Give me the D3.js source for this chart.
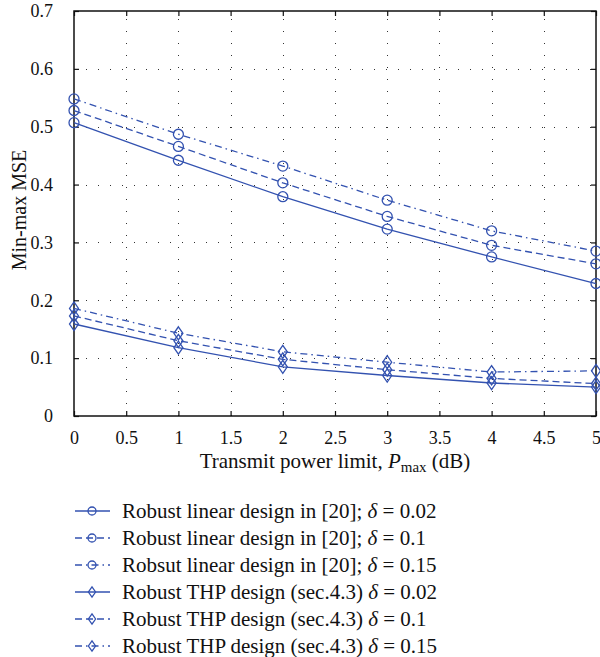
<!DOCTYPE html>
<html><head><meta charset="utf-8">
<script src="https://cdn.jsdelivr.net/npm/d3@7"></script>
<style>body{margin:0;background:#fff}svg{display:block}text{font-family:"Liberation Serif","Times New Roman",serif;fill:#111}</style>
</head><body><svg id="c" width="600" height="657"></svg>
<script>
const xValues = [0, 1, 2, 3, 4, 5];
const linear002 = [0.507, 0.442, 0.379, 0.323, 0.275, 0.229];
const linear01  = [0.528, 0.466, 0.403, 0.345, 0.295, 0.263];
const linear015 = [0.548, 0.487, 0.432, 0.373, 0.320, 0.285];
const thp002 = [0.159, 0.118, 0.085, 0.070, 0.057, 0.050];
const thp01  = [0.173, 0.130, 0.098, 0.080, 0.065, 0.056];
const thp015 = [0.186, 0.143, 0.111, 0.093, 0.076, 0.078];
const legendLabels = [
  "Robust linear design in [20]; δ = 0.02",
  "Robust linear design in [20]; δ = 0.1",
  "Robsut linear design in [20]; δ = 0.15",
  "Robust THP design (sec.4.3) δ = 0.02",
  "Robust THP design (sec.4.3) δ = 0.1",
  "Robust THP design (sec.4.3) δ = 0.15"
];
const xTicks = [0, 0.5, 1, 1.5, 2, 2.5, 3, 3.5, 4, 4.5, 5];
const yTicks = [0, 0.1, 0.2, 0.3, 0.4, 0.5, 0.6, 0.7];

const series = [
  {vals: linear002, dash: null, marker: "circle"},
  {vals: linear01, dash: "7,4", marker: "circle"},
  {vals: linear015, dash: "7,4,1.5,4", marker: "circle"},
  {vals: thp002, dash: null, marker: "diamond"},
  {vals: thp01, dash: "7,4", marker: "diamond"},
  {vals: thp015, dash: "7,4,1.5,4", marker: "diamond"}
];
series.forEach((s, i) => s.label = legendLabels[i]);

const color = "#3352b0";
const L = 74, R = 596, T = 11, B = 416;
const svg = d3.select("#c");
const x = d3.scaleLinear().domain([0, 5]).range([L, R]);
const y = d3.scaleLinear().domain([0, 0.7]).range([B, T]);

// grid
const grid = svg.append("g").attr("stroke", "#333").attr("stroke-width", 1).attr("stroke-dasharray", "1,11");
grid.selectAll(".gx").data(xTicks.slice(1, -1)).join("line")
  .attr("x1", d => Math.round(x(d)) + 0.5).attr("x2", d => Math.round(x(d)) + 0.5)
  .attr("y1", B).attr("y2", T);
grid.selectAll(".gy").data(yTicks.slice(1, -1)).join("line")
  .attr("y1", d => Math.round(y(d)) + 0.5).attr("y2", d => Math.round(y(d)) + 0.5)
  .attr("x1", L).attr("x2", R);

// axes
const fs = 18;
const ax = svg.append("g").attr("transform", `translate(0,${B})`)
  .call(d3.axisBottom(x).tickValues(xTicks).tickSize(-5).tickPadding(15).tickFormat(d3.format("")));
const axT = svg.append("g").attr("transform", `translate(0,${T})`)
  .call(d3.axisTop(x).tickValues(xTicks).tickSize(-5).tickFormat(""));
const ay = svg.append("g").attr("transform", `translate(${L},0)`)
  .call(d3.axisLeft(y).tickValues(yTicks).tickSize(-5).tickPadding(21).tickFormat(d => d === 0 ? "0" : d3.format(".1f")(d)));
const ayR = svg.append("g").attr("transform", `translate(${R},0)`)
  .call(d3.axisRight(y).tickValues(yTicks).tickSize(-5).tickFormat(""));
[ax, axT, ay, ayR].forEach(g => {
  g.select(".domain").remove();
  g.selectAll("line").attr("stroke", "#111").attr("stroke-width", 1.2);
  g.selectAll("text").attr("font-size", fs).attr("font-family", "Liberation Serif").attr("fill", "#111");
});
svg.append("rect").attr("x", L).attr("y", T).attr("width", R - L).attr("height", B - T)
  .attr("fill", "none").attr("stroke", "#111").attr("stroke-width", 1.5);

// labels
const xl = svg.append("text").attr("x", 335).attr("y", 468).attr("text-anchor", "middle").attr("font-size", 21);
xl.append("tspan").text("Transmit power limit, ");
xl.append("tspan").attr("font-style", "italic").text("P");
xl.append("tspan").attr("font-size", 15).attr("dy", 4).text("max");
xl.append("tspan").attr("dy", -4).text(" (dB)");
svg.append("text").attr("transform", "translate(26,210) rotate(-90)").attr("text-anchor", "middle")
  .attr("font-size", 20).text("Min-max MSE");

// series
const line = d3.line().x((d, i) => x(xValues[i])).y(d => y(d));
function marker(g, kind, cx, cy, k) {
  if (kind === "circle") {
    g.append("circle").attr("cx", cx).attr("cy", cy).attr("r", 5 * k)
      .attr("fill", "none").attr("stroke", color).attr("stroke-width", 1.3);
  } else {
    g.append("path").attr("d", `M${cx},${cy - 6.5 * k}L${cx + 4.5 * k},${cy}L${cx},${cy + 6.5 * k}L${cx - 4.5 * k},${cy}Z`)
      .attr("fill", "none").attr("stroke", color).attr("stroke-width", 1.3);
  }
}
const sg = svg.append("g");
series.forEach(s => {
  sg.append("path").attr("d", line(s.vals)).attr("fill", "none").attr("stroke", color)
    .attr("stroke-width", 1.3).attr("stroke-dasharray", s.dash);
  s.vals.forEach((v, i) => marker(sg, s.marker, x(xValues[i]), y(v), 1));
});

// legend
const lg = svg.append("g");
series.forEach((s, i) => {
  const yy = 511 + i * 27;
  lg.append("line").attr("x1", 75).attr("x2", 110).attr("y1", yy).attr("y2", yy)
    .attr("stroke", color).attr("stroke-width", 1.3).attr("stroke-dasharray", s.dash);
  marker(lg, s.marker, 92, yy, 0.8);
  const t = lg.append("text").attr("x", 122).attr("y", yy + 7).attr("font-size", 21);
  const parts = s.label.split("δ");
  t.append("tspan").text(parts[0]);
  t.append("tspan").attr("font-style", "italic").text("δ");
  t.append("tspan").text(parts[1]);
});
</script></body></html>
